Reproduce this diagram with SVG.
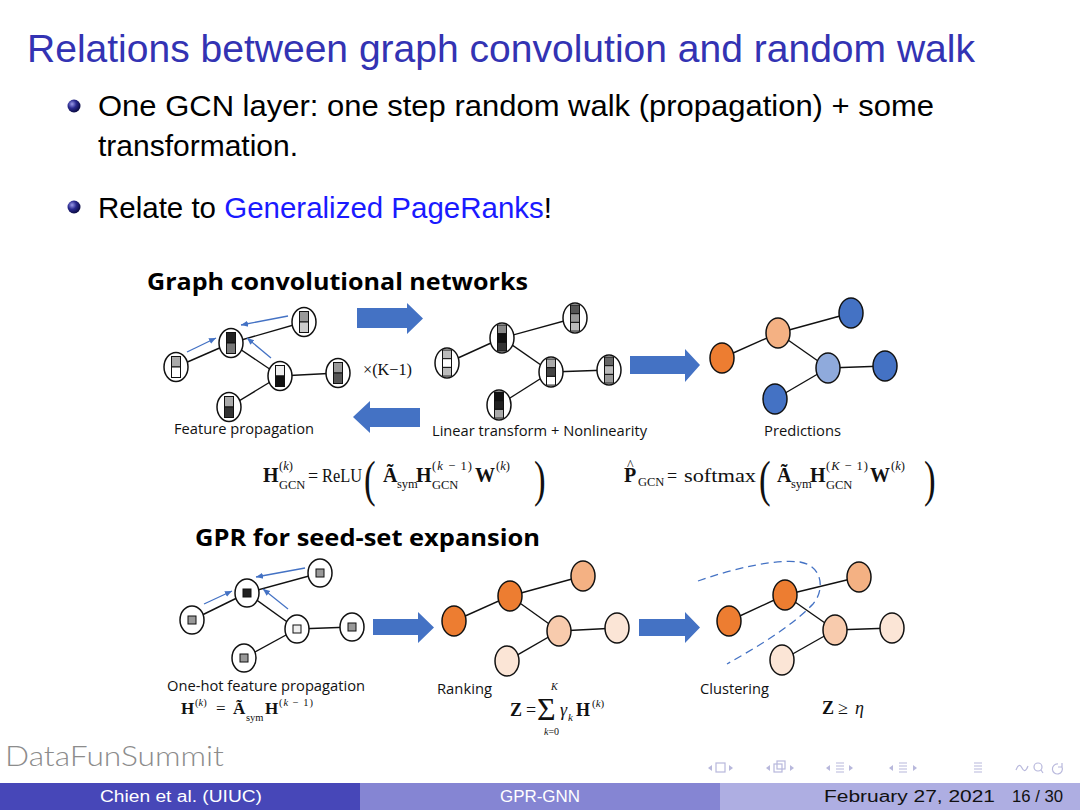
<svg xmlns="http://www.w3.org/2000/svg" width="1080" height="810" viewBox="0 0 1080 810">
<style>
.title{font-family:"Liberation Sans",Arial,sans-serif;font-size:38px;fill:#3333b3}
.body{font-family:"Liberation Sans",Arial,sans-serif;font-size:30px;fill:#000}
.head{font-family:"Open Sans","Liberation Sans",sans-serif;font-weight:bold;font-size:24px;fill:#000}
.lbl{font-family:"Open Sans","Liberation Sans",sans-serif;font-size:14px;fill:#111}
.m{font-family:"Liberation Serif","Times New Roman",serif;font-size:18px;fill:#111}
.mb{font-family:"Liberation Serif","Times New Roman",serif;font-size:20px;font-weight:bold;fill:#111}
.ms{font-family:"Liberation Serif","Times New Roman",serif;font-size:12.5px;fill:#111}
.mi{font-style:italic}
.par{font-family:"Liberation Serif","Times New Roman",serif;font-size:50px;fill:#111}
.nd{fill:#fff;stroke:#111;stroke-width:1.5}
.cell{stroke:#111;stroke-width:1}
.cn{stroke:#111;stroke-width:1.5}
.edge{stroke:#111;stroke-width:1.4;fill:none}
.ba{stroke:#4472c4;stroke-width:1.3;fill:none;marker-end:url(#ah)}
.big{fill:#4472c4}
.foot{font-family:"Liberation Sans",Arial,sans-serif;font-size:16px}
.nav{fill:none;stroke:#b8b8dc;stroke-width:1.2}
.navf{fill:#b8b8dc}
</style>
<defs>
<marker id="ah" markerWidth="8" markerHeight="8" refX="7" refY="4" orient="auto" markerUnits="userSpaceOnUse">
<path d="M0,1 L7,4 L0,7 z" fill="#4472c4"/>
</marker>
<radialGradient id="ball" cx="35%" cy="35%" r="65%">
<stop offset="0" stop-color="#9a9ae8"/>
<stop offset="0.5" stop-color="#2a2a90"/>
<stop offset="1" stop-color="#0c0c45"/>
</radialGradient>
</defs>

<rect width="1080" height="810" fill="#fff"/>

<text class="title" x="27" y="62" textLength="948" lengthAdjust="spacingAndGlyphs">Relations between graph convolution and random walk</text>

<circle cx="74" cy="106" r="6.5" fill="url(#ball)"/>
<text class="body" x="98" y="116" textLength="836" lengthAdjust="spacingAndGlyphs">One GCN layer: one step random walk (propagation) + some</text>
<text class="body" x="98" y="156" textLength="200" lengthAdjust="spacingAndGlyphs">transformation.</text>
<circle cx="74" cy="207" r="6.5" fill="url(#ball)"/>
<text class="body" x="98" y="218" textLength="454" lengthAdjust="spacingAndGlyphs">Relate to <tspan fill="#1a1aff">Generalized PageRanks</tspan>!</text>

<text class="head" x="147" y="290" textLength="381" lengthAdjust="spacingAndGlyphs">Graph convolutional networks</text>
<text class="head" x="195" y="546" textLength="345" lengthAdjust="spacingAndGlyphs">GPR for seed-set expansion</text>

<g id="connectors">
<!-- GCN feature propagation -->
<line class="edge" x1="176" y1="367" x2="231" y2="343"/>
<line class="edge" x1="231" y1="343" x2="304" y2="322"/>
<line class="edge" x1="231" y1="343" x2="280" y2="376"/>
<line class="edge" x1="280" y1="376" x2="338" y2="373"/>
<line class="edge" x1="280" y1="376" x2="229" y2="407"/>
<line class="ba" x1="187" y1="352" x2="216" y2="338"/>
<line class="ba" x1="288" y1="316" x2="241" y2="325"/>
<line class="ba" x1="271" y1="358" x2="247" y2="338"/>
<!-- GCN linear transform -->
<line class="edge" x1="447" y1="363" x2="502" y2="338"/>
<line class="edge" x1="502" y1="338" x2="575" y2="318"/>
<line class="edge" x1="502" y1="338" x2="551" y2="372"/>
<line class="edge" x1="551" y1="372" x2="609" y2="370"/>
<line class="edge" x1="551" y1="372" x2="499" y2="405"/>
<!-- predictions -->
<line class="edge" x1="722" y1="358" x2="778" y2="333"/>
<line class="edge" x1="778" y1="333" x2="851" y2="313"/>
<line class="edge" x1="778" y1="333" x2="828" y2="368"/>
<line class="edge" x1="828" y1="368" x2="885" y2="366"/>
<line class="edge" x1="828" y1="368" x2="775" y2="399"/>
<!-- GPR one-hot -->
<line class="edge" x1="192" y1="620" x2="247" y2="593"/>
<line class="edge" x1="247" y1="593" x2="320" y2="573"/>
<line class="edge" x1="247" y1="593" x2="297" y2="629"/>
<line class="edge" x1="297" y1="629" x2="352" y2="627"/>
<line class="edge" x1="297" y1="629" x2="244" y2="658"/>
<line class="ba" x1="204" y1="604" x2="232" y2="591"/>
<line class="ba" x1="305" y1="568" x2="256" y2="577"/>
<line class="ba" x1="288" y1="609" x2="263" y2="589"/>
<!-- ranking -->
<line class="edge" x1="454" y1="621" x2="510" y2="596"/>
<line class="edge" x1="510" y1="596" x2="583" y2="576"/>
<line class="edge" x1="510" y1="596" x2="559" y2="631"/>
<line class="edge" x1="559" y1="631" x2="617" y2="628"/>
<line class="edge" x1="559" y1="631" x2="507" y2="661"/>
<!-- clustering -->
<line class="edge" x1="729" y1="621" x2="785" y2="595"/>
<line class="edge" x1="785" y1="595" x2="859" y2="577"/>
<line class="edge" x1="785" y1="595" x2="835" y2="630"/>
<line class="edge" x1="835" y1="630" x2="892" y2="628"/>
<line class="edge" x1="835" y1="630" x2="782" y2="660"/>
<path d="M698,581 C735,568 775,559 800,562 C823,566 825,590 813,604 C790,628 755,648 727,664" fill="none" stroke="#4472c4" stroke-width="1.3" stroke-dasharray="8,5"/>
<!-- block arrows -->
<polygon class="big" points="357,308 407,308 407,303 423,318.5 407,334 407,328 357,328"/>
<polygon class="big" points="420,408 370,408 370,401 353,417 370,433 370,427 420,427"/>
<polygon class="big" points="630,356 685,356 685,349 700,365 685,382 685,374 630,374"/>
<polygon class="big" points="373,619 418,619 418,612 434,627.5 418,643 418,635 373,635"/>
<polygon class="big" points="639,619 685,619 685,612 700,627.5 685,643 685,636 639,636"/>
</g>

<!-- GCN feature propagation nodes -->
<g id="fp-a" transform="translate(176,367)"><ellipse class="nd" rx="12" ry="14.5"/><rect class="cell" x="-4.5" y="-10.5" width="9" height="10.5" fill="#aaa"/><rect class="cell" x="-4.5" y="0" width="9" height="10.5" fill="#fff"/></g>
<g id="fp-b" transform="translate(231,343)"><ellipse class="nd" rx="12" ry="14.5"/><rect class="cell" x="-4.5" y="-10.5" width="9" height="10.5" fill="#222"/><rect class="cell" x="-4.5" y="0" width="9" height="10.5" fill="#777"/></g>
<g id="fp-c" transform="translate(304,322)"><ellipse class="nd" rx="12" ry="14.5"/><rect class="cell" x="-4.5" y="-10.5" width="9" height="10.5" fill="#999"/><rect class="cell" x="-4.5" y="0" width="9" height="10.5" fill="#ccc"/></g>
<g id="fp-d" transform="translate(280,376)"><ellipse class="nd" rx="12" ry="14.5"/><rect class="cell" x="-4.5" y="-10.5" width="9" height="10.5" fill="#eee"/><rect class="cell" x="-4.5" y="0" width="9" height="10.5" fill="#111"/></g>
<g id="fp-e" transform="translate(338,373)"><ellipse class="nd" rx="12" ry="14.5"/><rect class="cell" x="-4.5" y="-10.5" width="9" height="10.5" fill="#999"/><rect class="cell" x="-4.5" y="0" width="9" height="10.5" fill="#555"/></g>
<g id="fp-f" transform="translate(229,407)"><ellipse class="nd" rx="12" ry="14.5"/><rect class="cell" x="-4.5" y="-10.5" width="9" height="10.5" fill="#aaa"/><rect class="cell" x="-4.5" y="0" width="9" height="10.5" fill="#333"/></g>

<!-- GCN linear transform nodes -->
<g id="lt-a" transform="translate(447,363)"><ellipse class="nd" rx="12" ry="15"/><rect class="cell" x="-4.5" y="-13" width="9" height="8.7" fill="#bbb"/><rect class="cell" x="-4.5" y="-4.3" width="9" height="8.7" fill="#fff"/><rect class="cell" x="-4.5" y="4.4" width="9" height="8.7" fill="#bbb"/></g>
<g id="lt-b" transform="translate(502,338)"><ellipse class="nd" rx="12" ry="15"/><rect class="cell" x="-4.5" y="-13" width="9" height="8.7" fill="#888"/><rect class="cell" x="-4.5" y="-4.3" width="9" height="8.7" fill="#111"/><rect class="cell" x="-4.5" y="4.4" width="9" height="8.7" fill="#333"/></g>
<g id="lt-c" transform="translate(575,318)"><ellipse class="nd" rx="12" ry="15"/><rect class="cell" x="-4.5" y="-13" width="9" height="8.7" fill="#555"/><rect class="cell" x="-4.5" y="-4.3" width="9" height="8.7" fill="#999"/><rect class="cell" x="-4.5" y="4.4" width="9" height="8.7" fill="#bbb"/></g>
<g id="lt-d" transform="translate(551,372)"><ellipse class="nd" rx="12" ry="15"/><rect class="cell" x="-4.5" y="-13" width="9" height="8.7" fill="#aaa"/><rect class="cell" x="-4.5" y="-4.3" width="9" height="8.7" fill="#444"/><rect class="cell" x="-4.5" y="4.4" width="9" height="8.7" fill="#fff"/></g>
<g id="lt-e" transform="translate(609,370)"><ellipse class="nd" rx="12" ry="15"/><rect class="cell" x="-4.5" y="-13" width="9" height="8.7" fill="#666"/><rect class="cell" x="-4.5" y="-4.3" width="9" height="8.7" fill="#bbb"/><rect class="cell" x="-4.5" y="4.4" width="9" height="8.7" fill="#999"/></g>
<g id="lt-f" transform="translate(499,405)"><ellipse class="nd" rx="12" ry="15"/><rect class="cell" x="-4.5" y="-13" width="9" height="8.7" fill="#111"/><rect class="cell" x="-4.5" y="-4.3" width="9" height="8.7" fill="#222"/><rect class="cell" x="-4.5" y="4.4" width="9" height="8.7" fill="#aaa"/></g>

<!-- predictions nodes -->
<g id="pr-a"><ellipse class="cn" cx="722" cy="358" rx="12" ry="15" fill="#ed7d31"/></g>
<g id="pr-b"><ellipse class="cn" cx="778" cy="333" rx="12" ry="15" fill="#f4b183"/></g>
<g id="pr-c"><ellipse class="cn" cx="851" cy="313" rx="12" ry="15" fill="#4472c4"/></g>
<g id="pr-d"><ellipse class="cn" cx="828" cy="368" rx="12" ry="15" fill="#8faadc"/></g>
<g id="pr-e"><ellipse class="cn" cx="885" cy="366" rx="12" ry="15" fill="#4472c4"/></g>
<g id="pr-f"><ellipse class="cn" cx="775" cy="399" rx="12" ry="15" fill="#4472c4"/></g>

<!-- GPR one-hot nodes -->
<g id="oh-a" transform="translate(192,620)"><ellipse class="nd" rx="12" ry="14"/><rect class="cell" x="-4" y="-4" width="8" height="8" fill="#999"/></g>
<g id="oh-b" transform="translate(247,593)"><ellipse class="nd" rx="12" ry="14"/><rect class="cell" x="-4" y="-4" width="8" height="8" fill="#222"/></g>
<g id="oh-c" transform="translate(320,573)"><ellipse class="nd" rx="12" ry="14"/><rect class="cell" x="-4" y="-4" width="8" height="8" fill="#999"/></g>
<g id="oh-d" transform="translate(297,629)"><ellipse class="nd" rx="12" ry="14"/><rect class="cell" x="-4" y="-4" width="8" height="8" fill="#eee"/></g>
<g id="oh-e" transform="translate(352,627)"><ellipse class="nd" rx="12" ry="14"/><rect class="cell" x="-4" y="-4" width="8" height="8" fill="#999"/></g>
<g id="oh-f" transform="translate(244,658)"><ellipse class="nd" rx="12" ry="14"/><rect class="cell" x="-4" y="-4" width="8" height="8" fill="#999"/></g>

<!-- ranking nodes -->
<g id="rk-a"><ellipse class="cn" cx="454" cy="621" rx="12" ry="15" fill="#ed7d31"/></g>
<g id="rk-b"><ellipse class="cn" cx="510" cy="596" rx="12" ry="15" fill="#ed7d31"/></g>
<g id="rk-c"><ellipse class="cn" cx="583" cy="576" rx="12" ry="15" fill="#f4b183"/></g>
<g id="rk-d"><ellipse class="cn" cx="559" cy="631" rx="12" ry="15" fill="#f8cbad"/></g>
<g id="rk-e"><ellipse class="cn" cx="617" cy="628" rx="12" ry="15" fill="#fbe5d6"/></g>
<g id="rk-f"><ellipse class="cn" cx="507" cy="661" rx="12" ry="15" fill="#fbe5d6"/></g>

<!-- clustering nodes -->
<g id="cl-a"><ellipse class="cn" cx="729" cy="621" rx="12" ry="15" fill="#ed7d31"/></g>
<g id="cl-b"><ellipse class="cn" cx="785" cy="595" rx="12" ry="15" fill="#ed7d31"/></g>
<g id="cl-c"><ellipse class="cn" cx="859" cy="577" rx="12" ry="15" fill="#f4b183"/></g>
<g id="cl-d"><ellipse class="cn" cx="835" cy="630" rx="12" ry="15" fill="#f8cbad"/></g>
<g id="cl-e"><ellipse class="cn" cx="892" cy="628" rx="12" ry="15" fill="#fbe5d6"/></g>
<g id="cl-f"><ellipse class="cn" cx="782" cy="660" rx="12" ry="15" fill="#fbe5d6"/></g>

<!-- labels -->
<text class="m" x="363" y="375" style="font-size:16px" textLength="49" lengthAdjust="spacingAndGlyphs">×(K−1)</text>
<text class="lbl" x="174" y="434" textLength="140" lengthAdjust="spacingAndGlyphs">Feature propagation</text>
<text class="lbl" x="432" y="436" textLength="215" lengthAdjust="spacingAndGlyphs">Linear transform + Nonlinearity</text>
<text class="lbl" x="764" y="436" textLength="77" lengthAdjust="spacingAndGlyphs">Predictions</text>
<text class="lbl" x="167" y="691" textLength="198" lengthAdjust="spacingAndGlyphs">One-hot feature propagation</text>
<text class="lbl" x="437" y="694" textLength="55" lengthAdjust="spacingAndGlyphs">Ranking</text>
<text class="lbl" x="700" y="694" textLength="69" lengthAdjust="spacingAndGlyphs">Clustering</text>

<!-- GCN formula left -->
<g id="f-gcn">
<text class="mb" x="263" y="482">H</text>
<text class="ms" x="279" y="470">(<tspan class="mi">k</tspan>)</text>
<text class="ms" x="279" y="489">GCN</text>
<text class="m" x="308" y="482">=</text>
<text class="m" x="322" y="482" textLength="40" lengthAdjust="spacingAndGlyphs">ReLU</text>
<text class="par" x="364" y="496" transform="translate(364,496) scale(0.7,1) translate(-364,-496)">(</text>
<text class="mb" x="383" y="482">Ã</text>
<text class="ms" x="397" y="488">sym</text>
<text class="mb" x="416" y="482">H</text>
<text class="ms" x="432" y="470" textLength="40" lengthAdjust="spacing">(<tspan class="mi">k</tspan> − 1)</text>
<text class="ms" x="432" y="489">GCN</text>
<text class="mb" x="475" y="482">W</text>
<text class="ms" x="496" y="470">(<tspan class="mi">k</tspan>)</text>
<text class="par" x="534" y="496" transform="translate(534,496) scale(0.7,1) translate(-534,-496)">)</text>
</g>

<!-- GCN formula right -->
<g id="f-pred">
<text class="mb" x="624" y="482">P</text>
<text class="m" x="627" y="470" style="font-size:14px">^</text>
<text class="ms" x="638" y="486">GCN</text>
<text class="m" x="667" y="482">=</text>
<text class="m" x="684" y="482" textLength="72" lengthAdjust="spacingAndGlyphs">softmax</text>
<text class="par" x="759" y="496" transform="translate(759,496) scale(0.7,1) translate(-759,-496)">(</text>
<text class="mb" x="777" y="482">Ã</text>
<text class="ms" x="791" y="488">sym</text>
<text class="mb" x="810" y="482">H</text>
<text class="ms" x="826" y="470" textLength="42" lengthAdjust="spacing">(<tspan class="mi">K</tspan> − 1)</text>
<text class="ms" x="826" y="489">GCN</text>
<text class="mb" x="870" y="482">W</text>
<text class="ms" x="891" y="470">(<tspan class="mi">k</tspan>)</text>
<text class="par" x="924" y="496" transform="translate(924,496) scale(0.7,1) translate(-924,-496)">)</text>
</g>

<!-- GPR formulas -->
<g id="f-onehot">
<text class="mb" x="181" y="714" style="font-size:17px">H</text>
<text class="ms" x="195" y="706" style="font-size:10.5px">(<tspan class="mi">k</tspan>)</text>
<text class="m" x="216" y="714" style="font-size:17px">=</text>
<text class="mb" x="233" y="714" style="font-size:17px">Ã</text>
<text class="ms" x="246" y="721" style="font-size:10.5px">sym</text>
<text class="mb" x="265" y="714" style="font-size:17px">H</text>
<text class="ms" x="279" y="706" style="font-size:10.5px" textLength="34" lengthAdjust="spacing">(<tspan class="mi">k</tspan> − 1)</text>
</g>
<g id="f-rank">
<text class="mb" x="510" y="716" style="font-size:18px">Z</text>
<text class="m" x="526" y="716" style="font-size:18px">=</text>
<text class="m" x="537" y="720" style="font-size:32px">Σ</text>
<text class="ms mi" x="551" y="690" style="font-size:10px">K</text>
<text class="ms" x="544" y="735" style="font-size:10px"><tspan class="mi">k</tspan>=0</text>
<text class="m mi" x="560" y="716" style="font-size:18px">γ</text>
<text class="ms mi" x="568" y="721" style="font-size:11px">k</text>
<text class="mb" x="576" y="716" style="font-size:18px">H</text>
<text class="ms" x="592" y="707" style="font-size:11px">(<tspan class="mi">k</tspan>)</text>
</g>
<g id="f-clust">
<text class="mb" x="822" y="714" style="font-size:18px">Z</text>
<text class="m" x="838" y="714" style="font-size:18px">≥</text>
<text class="m mi" x="855" y="714" style="font-size:18px">η</text>
</g>

<!-- footer -->
<text x="5" y="766" font-family="Lato,'Open Sans',sans-serif" font-weight="300" font-size="27" fill="#8c8c8c" textLength="219" lengthAdjust="spacingAndGlyphs">DataFunSummit</text>

<g id="navsym">
<polygon class="navf" points="708,768 712,765 712,771"/>
<rect class="nav" x="716" y="763" width="9" height="9"/>
<polygon class="navf" points="733,768 729,765 729,771"/>
<polygon class="navf" points="766,768 770,765 770,771"/>
<rect class="nav" x="774" y="764" width="8" height="8"/>
<rect class="nav" x="777" y="761" width="8" height="8"/>
<polygon class="navf" points="794,768 790,765 790,771"/>
<polygon class="navf" points="826,768 830,765 830,771"/>
<path class="nav" d="M836,763 h8 M836,766 h8 M836,769 h8 M836,772 h8"/>
<polygon class="navf" points="853,768 849,765 849,771"/>
<polygon class="navf" points="889,768 893,765 893,771"/>
<path class="nav" d="M899,763 h8 M899,766 h8 M899,769 h8 M899,772 h8"/>
<polygon class="navf" points="917,768 913,765 913,771"/>
<path class="nav" d="M974,763 h8 M974,766 h8 M974,769 h8 M974,772 h8"/>
<path class="nav" d="M1016,770 q3,-8 6,-2 q3,6 6,-2"/>
<circle class="nav" cx="1038" cy="767" r="4"/>
<path class="nav" d="M1041,770 l2,3"/>
<path class="nav" d="M1058,764 a5,5 0 1 0 4,3 M1062,763 v4 h-4"/>
</g>

<rect x="0" y="783" width="360" height="27" fill="#4747b8"/>
<rect x="360" y="783" width="360" height="27" fill="#8585d3"/>
<rect x="720" y="783" width="360" height="27" fill="#aeaee2"/>
<text class="foot" x="100" y="802" fill="#fff" textLength="162" lengthAdjust="spacingAndGlyphs">Chien et al.  (UIUC)</text>
<text class="foot" x="500" y="802" fill="#fff" textLength="80" lengthAdjust="spacingAndGlyphs">GPR-GNN</text>
<text class="foot" x="824" y="802" fill="#111" textLength="171" lengthAdjust="spacingAndGlyphs">February 27, 2021</text>
<text class="foot" x="1012" y="802" fill="#111" textLength="51" lengthAdjust="spacingAndGlyphs">16 / 30</text>
</svg>
